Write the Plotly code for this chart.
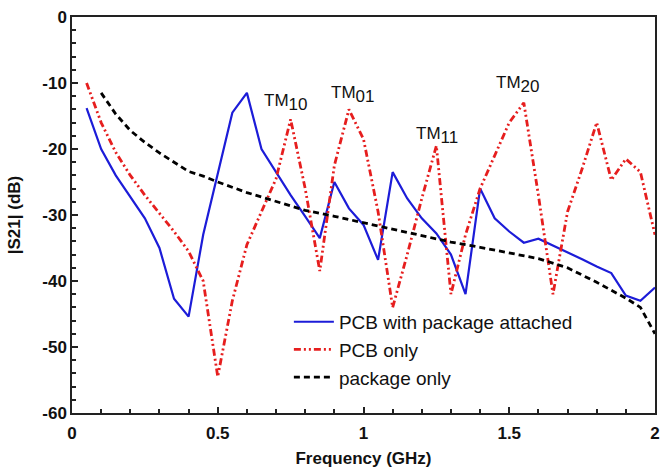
import plotly.graph_objects as go

# Blue: PCB with package attached
freq_pkg_pcb = [0.05, 0.1, 0.15, 0.2, 0.25, 0.3, 0.35, 0.4, 0.45, 0.55, 0.6, 0.65, 0.7, 0.75, 0.8, 0.85,
                0.9, 0.95, 1.0, 1.05, 1.1, 1.15, 1.2, 1.25, 1.3, 1.35, 1.4, 1.45, 1.5, 1.55, 1.6,
                1.65, 1.7, 1.75, 1.8, 1.85, 1.9, 1.95, 2.0]
s21_pkg_pcb = [-13.8, -20.0, -24.0, -27.2, -30.5, -35.0, -42.7, -45.4, -33.0, -14.5, -11.5, -20.0, -23.5, -27.0, -30.2, -33.5,
               -25.0, -29.0, -31.5, -36.8, -23.5, -27.5, -30.5, -32.8, -36.0, -42.0, -26.0, -30.5, -32.5, -34.2, -33.6,
               -34.6, -35.6, -36.7, -37.8, -38.8, -42.2, -43.0, -41.0]

# Red: PCB only
freq_pcb = [0.05, 0.1, 0.15, 0.2, 0.25, 0.3, 0.35, 0.4, 0.45, 0.5, 0.55, 0.6, 0.65, 0.7, 0.75, 0.8, 0.85,
            0.9, 0.95, 1.0, 1.05, 1.1, 1.15, 1.2, 1.25, 1.3, 1.35, 1.4, 1.45, 1.5, 1.55, 1.6, 1.65,
            1.7, 1.75, 1.8, 1.85, 1.9, 1.95, 2.0]
s21_pcb = [-10.0, -16.0, -20.5, -24.0, -27.0, -29.8, -32.5, -35.5, -40.0, -54.5, -43.0, -34.5, -29.5, -24.5, -15.5, -26.0, -38.5,
           -22.5, -14.0, -18.5, -29.5, -44.0, -36.0, -27.5, -19.5, -42.0, -33.0, -26.0, -21.0, -16.0, -13.0, -27.0, -42.0,
           -29.5, -23.0, -16.0, -24.7, -21.5, -23.5, -33.0]

# Black: package only
freq_pkg = [0.1, 0.15, 0.2, 0.25, 0.3, 0.35, 0.4, 0.45, 0.5, 0.6, 0.7, 0.8, 0.9, 1.0, 1.1, 1.2, 1.3,
            1.4, 1.5, 1.6, 1.7, 1.8, 1.9, 1.95, 2.0]
s21_pkg = [-11.5, -14.7, -17.2, -19.0, -20.6, -22.0, -23.4, -24.1, -25.0, -26.6, -27.9, -29.3, -30.2, -31.2, -32.2, -33.2, -34.1,
           -34.9, -35.7, -36.6, -38.0, -40.2, -42.6, -44.0, -48.0]

# Mode labels
mode_labels = ["TM", "TM", "TM", "TM"]
mode_subs = ["10", "01", "11", "20"]
mode_x = [0.652, 0.882, 1.173, 1.447]
mode_y = [-12.9, -11.8, -18.0, -10.2]

x_ticks = [0, 0.5, 1, 1.5, 2]
x_tick_text = ["0", "0.5", "1", "1.5", "2"]
y_ticks = [0, -10, -20, -30, -40, -50, -60]
y_tick_text = ["0", "-10", "-20", "-30", "-40", "-50", "-60"]

FONT = "Liberation Sans, Arial, sans-serif"

fig = go.Figure()
fig.add_trace(go.Scatter(x=freq_pkg_pcb, y=s21_pkg_pcb, mode="lines", name="PCB with package attached",
                         line=dict(color="#1c1cd8", width=2.2)))
fig.add_trace(go.Scatter(x=freq_pcb, y=s21_pcb, mode="lines", name="PCB only",
                         line=dict(color="#e61e1e", width=2.8, dash="7px,3px,2px,3px,2px,3px")))
fig.add_trace(go.Scatter(x=freq_pkg, y=s21_pkg, mode="lines", name="package only",
                         line=dict(color="black", width=2.8, dash="6px,4px")))

for lab, sub, xv, yv in zip(mode_labels, mode_subs, mode_x, mode_y):
    fig.add_annotation(x=xv, y=yv, xanchor="left", yanchor="middle", showarrow=False,
                       text=lab + "<sub><span style='font-size:17px'>" + sub + "</span></sub>",
                       font=dict(family=FONT, size=17, color="#111"))

tick_font = dict(family=FONT, size=17, color="#111", weight="bold")
title_font = dict(family=FONT, size=17, color="#111", weight="bold")
fig.update_xaxes(range=[0, 2], tickvals=x_ticks, ticktext=x_tick_text, ticks="inside", ticklen=6,
                 tickwidth=1.5, tickcolor="#222", showline=True, linecolor="#222", linewidth=1.5, mirror=True,
                 showgrid=False, zeroline=False, tickfont=tick_font, automargin=False, ticklabelstandoff=4,
                 minor=dict(ticks="inside", dtick=0.1, ticklen=4, tickcolor="#222", showgrid=False),
                 title=dict(text="Frequency (GHz)", font=title_font, standoff=10))
fig.update_yaxes(range=[-60, 0], tickvals=y_ticks, ticktext=y_tick_text, ticks="inside", ticklen=6,
                 tickwidth=1.5, tickcolor="#222", showline=True, linecolor="#222", linewidth=1.5, mirror=True,
                 showgrid=False, zeroline=False, tickfont=tick_font, automargin=False,
                 minor=dict(ticks="inside", dtick=2, ticklen=4, tickcolor="#222", showgrid=False),
                 title=dict(text="|S21| (dB)", font=title_font, standoff=17))

fig.update_layout(
    width=661, height=474,
    margin=dict(l=72, r=6, t=17, b=61),
    paper_bgcolor="white", plot_bgcolor="white",
    font=dict(family=FONT, size=17, color="#111"),
    showlegend=True,
    legend=dict(x=0.372, y=0.278, xanchor="left", yanchor="top", bgcolor="rgba(0,0,0,0)",
                font=dict(family=FONT, size=19, color="#111"),
                tracegroupgap=0, itemwidth=40),
)

fig.write_html("out.html", config={"displayModeBar": False},
               post_script="document.body.style.margin='0';document.body.style.padding='0';")
